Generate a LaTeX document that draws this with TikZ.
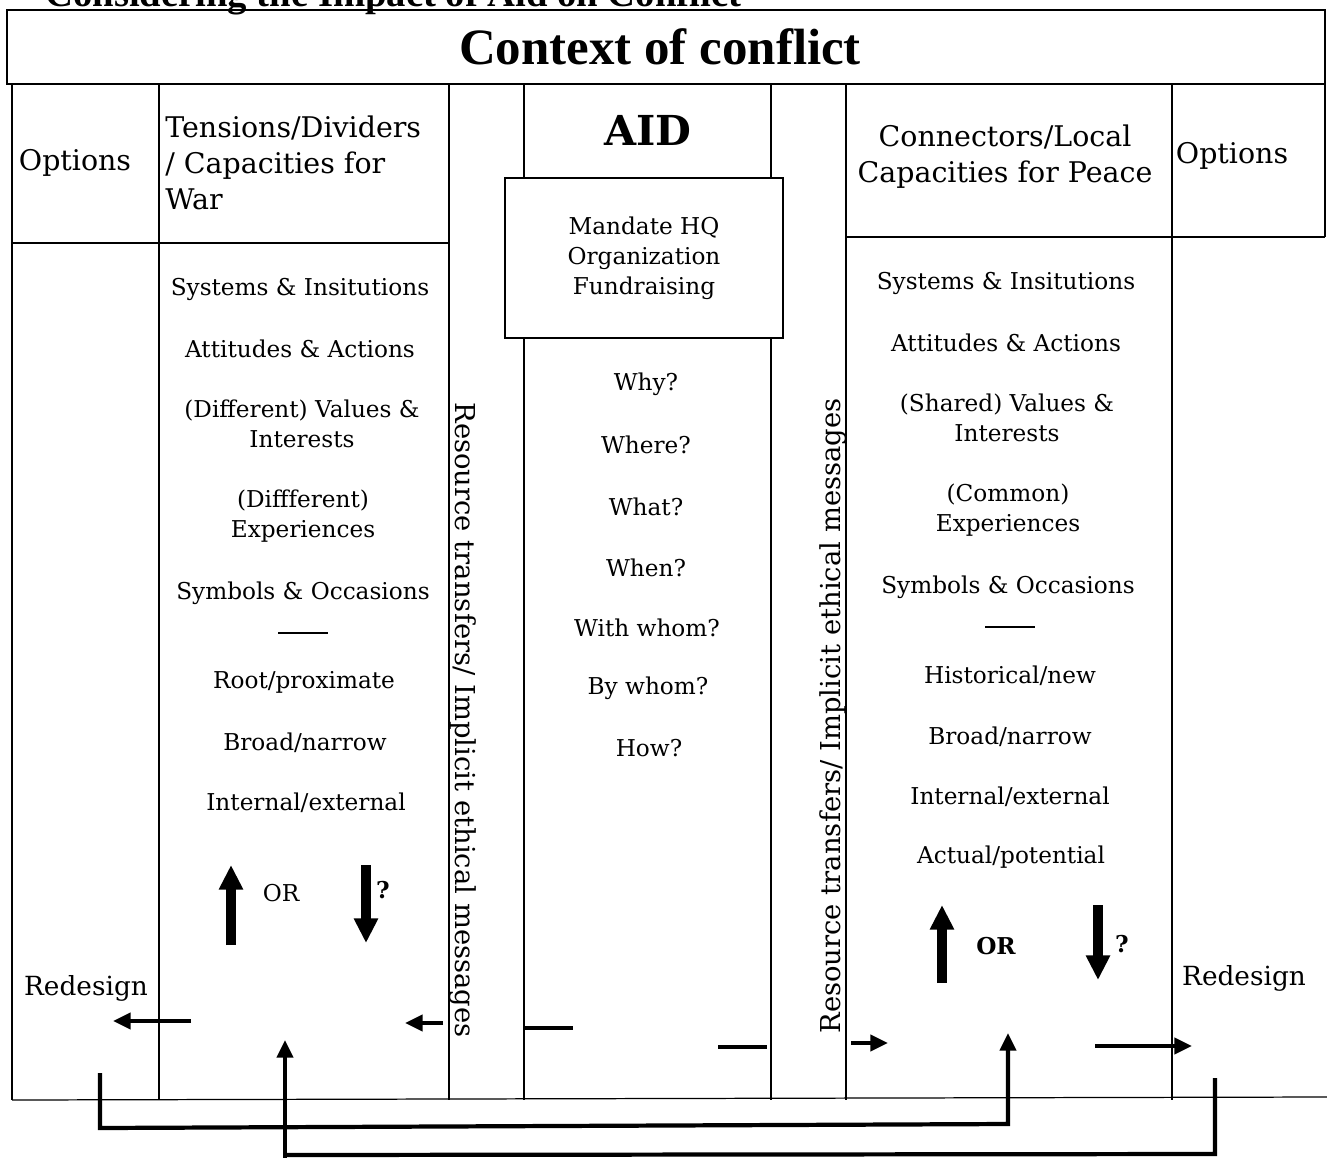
\documentclass[tikz,border=0pt]{standalone}
\usepackage{fontspec}
\setmainfont{DejaVu Serif}
\newfontfamily\timesfont{Liberation Serif}
\usetikzlibrary{arrows.meta}
\begin{document}
\begin{tikzpicture}[x=0.02cm,y=-0.02cm,
  grid/.style={line width=0.7pt},
  txt/.style={font=\fontsize{13.2}{17}\selectfont, align=center, inner sep=0pt},
  hdr/.style={font=\fontsize{16.2}{20.5}\selectfont, inner sep=0pt},
  redtxt/.style={font=\fontsize{15}{18}\selectfont, inner sep=0pt},
  vtxt/.style={font=\fontsize{15.6}{18}\selectfont, inner sep=0pt},
  bigarr/.style={line width=5.8pt, -{Triangle[length=14pt,width=13pt]}},
  flow/.style={line width=2.4pt, -{Triangle[length=10pt,width=9pt]}},
  route/.style={line width=2.4pt},
  dashbar/.style={line width=2.4pt},
  rulebar/.style={line width=0.8pt}
]
\useasboundingbox (0,0) rectangle (1327,1158);

% heading (cut off at top, as in the original)
\node[font=\timesfont\bfseries\fontsize{22}{24}\selectfont, anchor=base west, inner sep=0pt] (heading) at (45,7) {Considering the Impact of Aid on Conflict};

% title box
\draw[grid] (7,10) rectangle (1325,84);
\node[font=\timesfont\bfseries\fontsize{29}{31}\selectfont, inner sep=0pt] (title) at (660,47) {Context of conflict};

% table grid
\foreach \x in {12,159,449,524,771,846,1172}{
  \draw[grid] (\x,84) -- (\x,1100);
}
\draw[grid] (12,243) -- (449,243);
\draw[grid] (846,237) -- (1325,237);
\draw[grid] (1325,84) -- (1325,237);
\draw[grid] (12,1100) -- (1327,1097);

% headers
\node[hdr] (optL) at (75,163) {Options};
\node[hdr, align=left, anchor=west] (tens) at (165,163) {Tensions/Dividers\\/ Capacities for\\War};
\node[font=\bfseries\fontsize{23.5}{25}\selectfont, inner sep=0pt] (aid) at (648,130) {AID};
\node[hdr, align=center] (conn) at (1005,157) {Connectors/Local\\Capacities for Peace};
\node[hdr] (optR) at (1232,156) {Options};

% mandate box
\node[grid, draw, fill=white, minimum width=5.56cm, minimum height=3.2cm, txt] (mandate) at (644,258) {Mandate HQ\\Organization\\Fundraising};

% left column
\node[txt] (l1) at (300,289) {Systems \& Insitutions};
\node[txt] (l2) at (300,349) {Attitudes \& Actions};
\node[txt] (l3) at (302,424) {(Different) Values \&\\Interests};
\node[txt] (l4) at (303,516) {(Diffferent)\\Experiences};
\node[txt] (l5) at (303,593) {Symbols \& Occasions};
\coordinate (lr1) at (278,633); \coordinate (lr2) at (328,633);
\draw[rulebar] (lr1) -- (lr2);
\node[txt] (l6) at (304,682) {Root/proximate};
\node[txt] (l7) at (305,743) {Broad/narrow};
\node[txt] (l8) at (306,803) {Internal/external};

\coordinate (lua) at (231,945); \coordinate (lub) at (231,865);
\draw[bigarr] (lua) -- (lub);
\node[txt] (lor) at (281,893) {OR};
\coordinate (lda) at (366,865); \coordinate (ldb) at (366,943);
\draw[bigarr] (lda) -- (ldb);
\node[txt, font=\bfseries\fontsize{13.2}{17}\selectfont] (lq) at (383,890) {?};

% AID column
\node[txt] (a1) at (646,384) {Why?};
\node[txt] (a2) at (646,445) {Where?};
\node[txt] (a3) at (646,507) {What?};
\node[txt] (a4) at (646,568) {When?};
\node[txt] (a5) at (647,628) {With whom?};
\node[txt] (a6) at (648,688) {By whom?};
\node[txt] (a7) at (649,748) {How?};

% right column
\node[txt] (r1) at (1006,283) {Systems \& Insitutions};
\node[txt] (r2) at (1006,343) {Attitudes \& Actions};
\node[txt] (r3) at (1007,418) {(Shared) Values \&\\Interests};
\node[txt] (r4) at (1008,510) {(Common)\\Experiences};
\node[txt] (r5) at (1008,587) {Symbols \& Occasions};
\coordinate (rr1) at (985,627); \coordinate (rr2) at (1035,627);
\draw[rulebar] (rr1) -- (rr2);
\node[txt] (r6) at (1010,676) {Historical/new};
\node[txt] (r7) at (1010,737) {Broad/narrow};
\node[txt] (r8) at (1010,797) {Internal/external};
\node[txt] (r9) at (1011,857) {Actual/potential};

\coordinate (rua) at (942,983); \coordinate (rub) at (942,905);
\draw[bigarr] (rua) -- (rub);
\node[txt, font=\bfseries\fontsize{13.2}{17}\selectfont] (ror) at (996,946) {OR};
\coordinate (rda) at (1098,905); \coordinate (rdb) at (1098,980);
\draw[bigarr] (rda) -- (rdb);
\node[txt, font=\bfseries\fontsize{13.2}{17}\selectfont] (rq) at (1122,944) {?};

% vertical texts
\node[vtxt, rotate=-90] (vl) at (463,720) {Resource transfers/ Implicit ethical messages};
\node[vtxt, rotate=90] (vr) at (833,716) {Resource transfers/ Implicit ethical messages};

% redesign
\node[redtxt] (redL) at (86,988) {Redesign};
\node[redtxt] (redR) at (1244,978) {Redesign};

% small flow arrows
\coordinate (f1a) at (191,1021); \coordinate (f1b) at (113,1021);
\draw[flow] (f1a) -- (f1b);
\coordinate (f2a) at (443,1023); \coordinate (f2b) at (405,1023);
\draw[flow] (f2a) -- (f2b);
\coordinate (d1a) at (525,1028); \coordinate (d1b) at (573,1028);
\draw[dashbar] (d1a) -- (d1b);
\coordinate (d2a) at (718,1047); \coordinate (d2b) at (767,1047);
\draw[dashbar] (d2a) -- (d2b);
\coordinate (f3a) at (851,1043); \coordinate (f3b) at (888,1043);
\draw[flow] (f3a) -- (f3b);
\coordinate (f4a) at (1095,1046); \coordinate (f4b) at (1192,1046);
\draw[flow] (f4a) -- (f4b);

% feedback routes
\coordinate (ra1) at (100,1073); \coordinate (ra2) at (1008,1033);
\draw[route, -{Triangle[length=10pt,width=9pt]}] (ra1) -- (100,1128) -- (1008,1124) -- (ra2);
\coordinate (rb1) at (1215,1078); \coordinate (rb2) at (285,1040); \coordinate (rb0) at (285,1160);
\draw[route] (rb1) -- (1215,1154) -- (285,1155);
\draw[route, -{Triangle[length=10pt,width=9pt]}] (rb0) -- (rb2);
\end{tikzpicture}
\end{document}
